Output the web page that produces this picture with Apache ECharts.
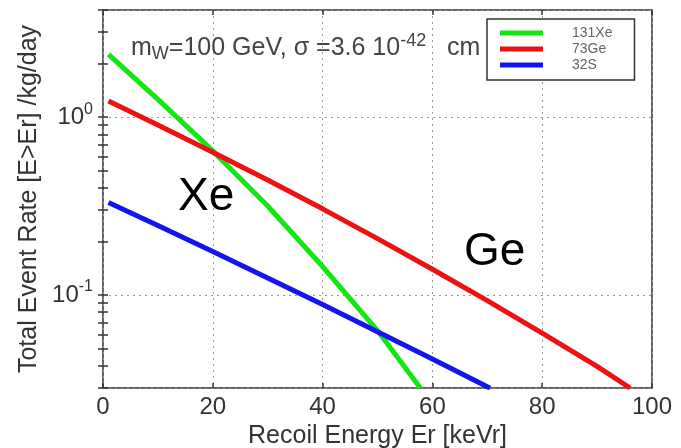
<!DOCTYPE html>
<html>
<head>
<meta charset="utf-8">
<script src="https://cdn.jsdelivr.net/npm/echarts@6/dist/echarts.min.js"></script>
<style>html,body{margin:0;padding:0;background:#fff;}#c{width:681px;height:448px;}</style>
</head>
<body>
<div id="c"></div>
<script>
// Data
var seriesNames = ['131Xe', '73Ge', '32S'];
var xenonData = [[1, 2.25], [10, 1.259], [20, 0.6457], [30, 0.3162], [40, 0.1445], [50, 0.0631], [57.8, 0.030]];
var germaniumData = [[1, 1.23], [10, 0.902], [20, 0.635], [30, 0.443], [40, 0.305], [50, 0.2075], [60, 0.1396], [70, 0.0929], [80, 0.0611], [90, 0.0397], [96, 0.030]];
var sulfurData = [[1, 0.331], [10, 0.2455], [20, 0.1754], [30, 0.1247], [40, 0.0883], [50, 0.0622], [60, 0.0437], [70, 0.0305], [70.5, 0.030]];
var xTicks = [0, 20, 40, 60, 80, 100];
var yLabelValues = [0.1, 1];
var yMinorTicks = [0.03, 0.04, 0.05, 0.06, 0.07, 0.08, 0.09, 0.1, 0.2, 0.3, 0.4, 0.5, 0.6, 0.7, 0.8, 0.9, 1, 2, 3, 4];

var colors = ['#14e614', '#ee1111', '#1414ee'];
var chart = echarts.init(document.getElementById('c'));
var font = 'Liberation Sans, Arial, sans-serif';
var frame = '#333';
var tickStyle = { color: frame, width: 1.5 };

function expLabel(v) {
  var e = Math.round(Math.log10(v));
  return '{b|10}{s|' + e + '}';
}
function tickOnlyLogAxis(pos) {
  return {
    type: 'log', logBase: 10, min: 0.03, max: 4, position: pos,
    axisLine: { show: false },
    axisTick: { show: true, inside: true, length: 5, customValues: yMinorTicks, lineStyle: tickStyle },
    axisLabel: { show: false }, splitLine: { show: false }
  };
}

var option = {
  animation: false,
  backgroundColor: '#fff',
  grid: { left: 103, right: 29, top: 10, bottom: 60, outerBoundsMode: 'none', containLabel: false, show: true, borderColor: frame, borderWidth: 1.5, backgroundColor: 'transparent' },
  legend: {
    orient: 'vertical', left: 487, top: 19, z: 20,
    backgroundColor: '#fff', borderColor: '#333', borderWidth: 1.5,
    padding: [7, 22, 8, 13], itemGap: 2, itemWidth: 43, itemHeight: 5, icon: 'rect',
    textStyle: { fontFamily: font, fontSize: 14, lineHeight: 14, color: '#666', padding: [0, 0, 0, 24] },
    data: seriesNames
  },
  xAxis: [{
    type: 'value', min: 0, max: 100, interval: 20, position: 'bottom',
    name: 'Recoil Energy Er [keVr]', nameLocation: 'middle', nameGap: 31,
    nameTextStyle: { fontFamily: font, fontSize: 25, color: '#333' },
    axisLine: { show: false },
    axisTick: { show: true, inside: true, length: 5, lineStyle: tickStyle },
    axisLabel: { fontFamily: font, fontSize: 24, color: '#333', margin: 7, customValues: xTicks },
    splitLine: { show: true, lineStyle: { color: '#999', type: [2, 4], width: 1 } }
  }, {
    type: 'value', min: 0, max: 100, interval: 20, position: 'top',
    axisLine: { show: false },
    axisTick: { show: true, inside: true, length: 5, lineStyle: tickStyle },
    axisLabel: { show: false }, splitLine: { show: false }
  }],
  yAxis: [{
    type: 'log', logBase: 10, min: 0.03, max: 4, position: 'left',
    name: 'Total Event Rate [E>Er] /kg/day', nameLocation: 'middle', nameGap: 55,
    nameTextStyle: { fontFamily: font, fontSize: 25, color: '#333' },
    axisLine: { show: false },
    axisTick: { show: false },
    axisLabel: {
      customValues: yLabelValues, margin: 10, formatter: expLabel,
      rich: {
        b: { fontFamily: font, fontSize: 24, color: '#333' },
        s: { fontFamily: font, fontSize: 16, color: '#333', padding: [0, 0, 16, 0] }
      }
    },
    splitLine: { show: true, lineStyle: { color: '#999', type: [2, 4], width: 1 } }
  }, tickOnlyLogAxis('right'), tickOnlyLogAxis('left')],
  graphic: [{
    type: 'text', left: 131, top: 32, z: 5,
    style: {
      text: '{m|m}{sub|W}{m|=100 GeV, σ =3.6 10}{sup|-42}{m|   cm}',
      rich: {
        m: { fontFamily: font, fontSize: 25, fill: '#444' },
        sub: { fontFamily: font, fontSize: 18, fill: '#444', padding: [12, 0, 0, 0] },
        sup: { fontFamily: font, fontSize: 18, fill: '#444', padding: [0, 0, 14, 0] }
      }
    }
  }, {
    type: 'text', left: 178, top: 174, z: 5,
    style: { text: 'Xe', fontFamily: font, fontSize: 46, fill: '#000' }
  }, {
    type: 'text', left: 464, top: 229, z: 5,
    style: { text: 'Ge', fontFamily: font, fontSize: 46, fill: '#000' }
  }],
  series: [{
    name: seriesNames[0], type: 'line', data: xenonData, showSymbol: false, clip: true, z: 3,
    lineStyle: { color: colors[0], width: 5 }, itemStyle: { color: colors[0] }
  }, {
    name: seriesNames[1], type: 'line', data: germaniumData, showSymbol: false, clip: true, z: 3,
    lineStyle: { color: colors[1], width: 5 }, itemStyle: { color: colors[1] }
  }, {
    name: seriesNames[2], type: 'line', data: sulfurData, showSymbol: false, clip: true, z: 3,
    lineStyle: { color: colors[2], width: 5 }, itemStyle: { color: colors[2] }
  }]
};
chart.setOption(option);
</script>
</body>
</html>
